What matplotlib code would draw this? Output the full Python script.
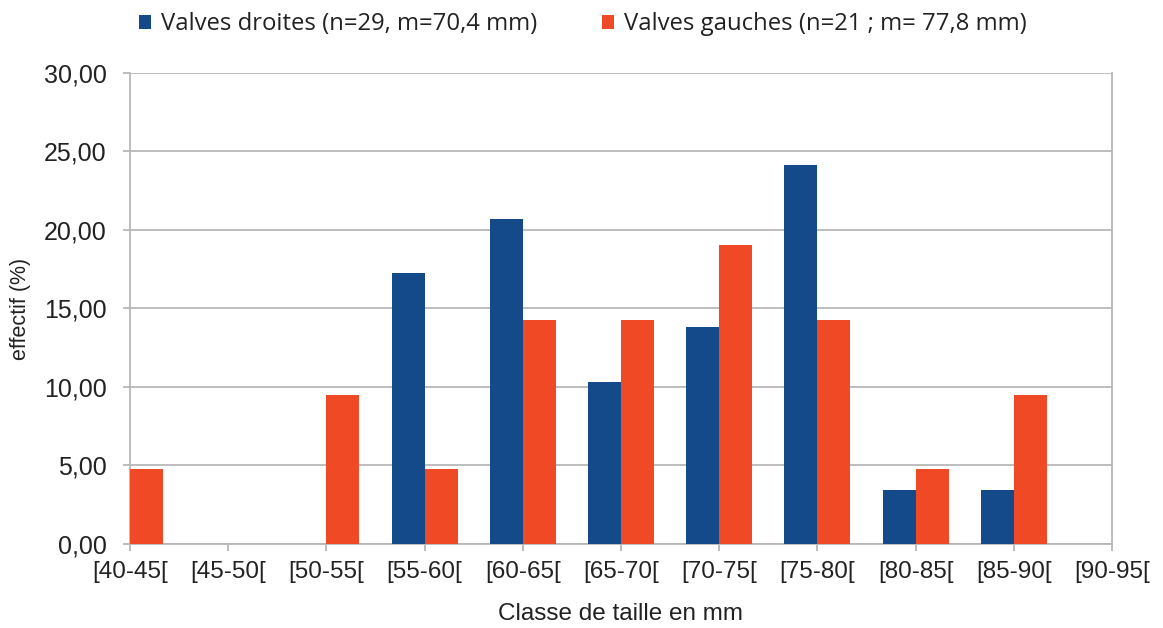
import matplotlib
matplotlib.use("Agg")
import matplotlib.pyplot as plt
import numpy as np

classes = ["[40-45[", "[45-50[", "[50-55[", "[55-60[", "[60-65[", "[65-70[",
           "[70-75[", "[75-80[", "[80-85[", "[85-90[", "[90-95["]
droites = [0, 0, 0, 17.24, 20.69, 10.34, 13.79, 24.14, 3.45, 3.45, 0]
gauches = [4.76, 0, 9.52, 4.76, 14.29, 14.29, 19.05, 14.29, 4.76, 9.52, 4.76]
yticks = [0, 5, 10, 15, 20, 25, 30]

blue = "#154a8a"
red = "#ef4a25"
grid = "#b7b7bb"
txt = "#222222"

plt.rcParams["xtick.major.pad"] = 7
plt.rcParams["ytick.major.pad"] = 12
plt.rcParams["xtick.major.size"] = 5
plt.rcParams["ytick.major.size"] = 5

fig = plt.figure(figsize=(11.63, 6.28), dpi=100)
ax = fig.add_axes([0.1118, 0.1338, 0.9561 - 0.1118, 0.8838 - 0.1338])

x = np.arange(len(classes))
w = 0.336
ax.bar(x - w / 2, droites, w, color=blue, label="Valves droites (n=29, m=70,4 mm)", zorder=3)
ax.bar(x + w / 2, gauches, w, color=red, label="Valves gauches (n=21 ; m= 77,8 mm)", zorder=3)

ax.set_xlim(0, len(classes) - 1)
ax.set_ylim(0, 30)
ax.set_xticks(x)
ax.set_xticklabels(classes, fontsize=17.5, family="Liberation Sans", color=txt)
ax.set_yticks(yticks)
ax.set_yticklabels([f"{v:.2f}".replace(".", ",") for v in yticks],
                   fontsize=18, family="Liberation Sans", color=txt)
ax.grid(axis="y", color=grid, linewidth=1.3, zorder=0)
ax.spines["top"].set_visible(False)
for s in ["left", "right", "bottom"]:
    ax.spines[s].set_color(grid)
    ax.spines[s].set_linewidth(1.3)
ax.tick_params(axis="both", color=grid, width=1.3)

ax.set_xlabel("Classe de taille en mm", fontsize=17.5, family="Liberation Sans",
              color=txt, labelpad=15)
ax.set_ylabel("effectif (%)", fontsize=15.5, family="Liberation Sans", color=txt)
ax.yaxis.set_label_coords(-0.101, 0.5)

fig.legend(loc="upper center", bbox_to_anchor=(0.501, 1.015), ncol=2, frameon=False,
           prop={"family": "Open Sans", "size": 17.2}, handlelength=0.52,
           handleheight=0.52, handletextpad=0.4, columnspacing=2.7,
           labelcolor=txt)

fig.savefig("out.png", dpi=100)
